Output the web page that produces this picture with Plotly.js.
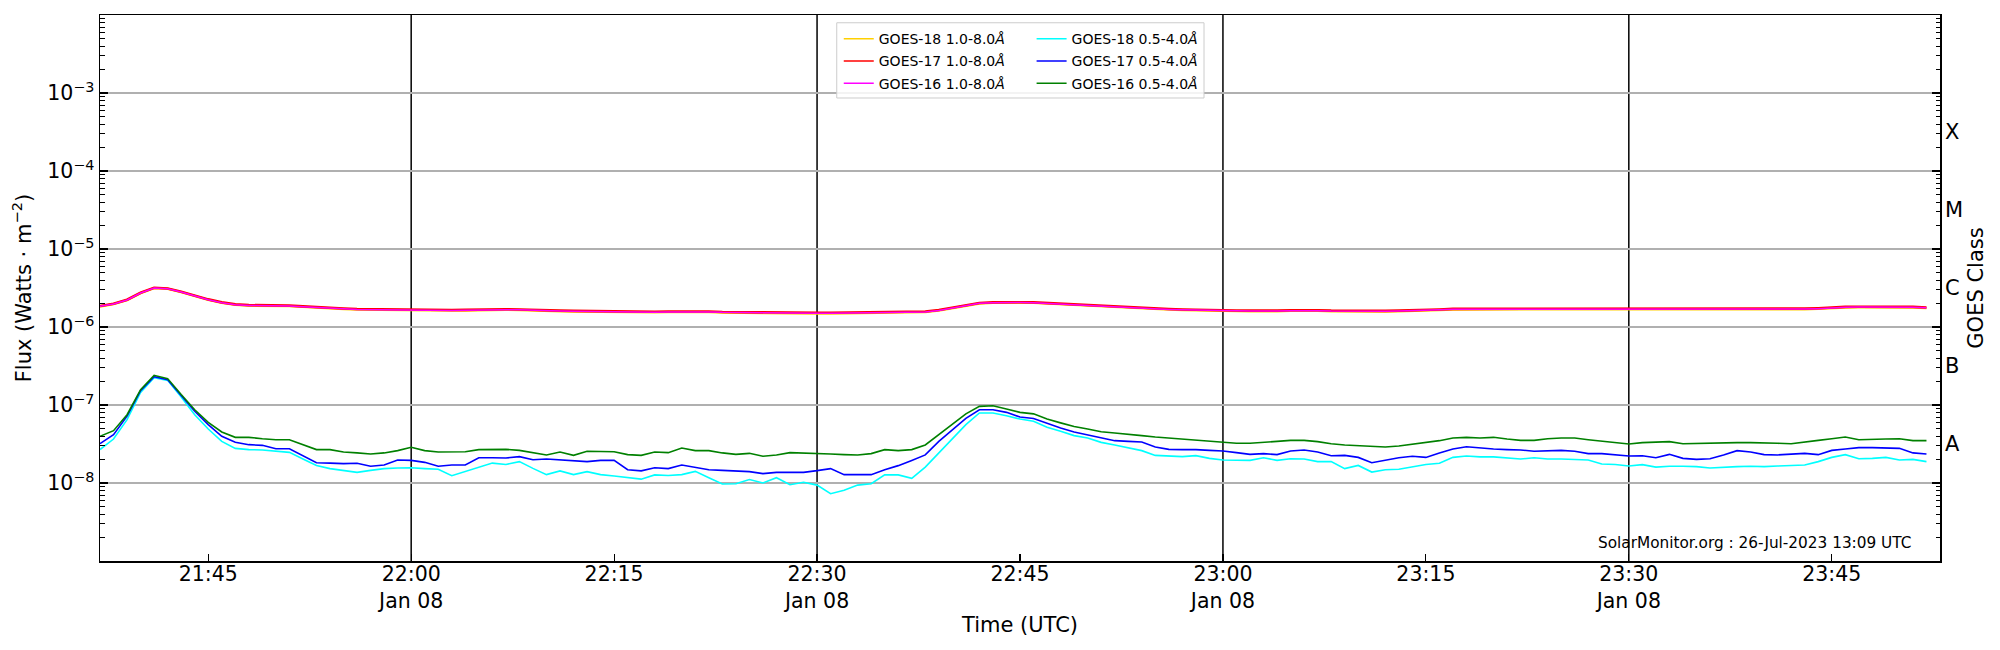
<!DOCTYPE html>
<html>
<head>
<meta charset="utf-8">
<script src="https://cdn.plot.ly/plotly-3.0.1.min.js"></script>
<style>
    html, body { margin: 0; padding: 0; background: #fff; }
    #chart { width: 2000px; height: 650px; }
</style>
</head>
<body>
<div id="chart"></div>
<script>
// GOES X-ray flux, 1-minute samples from 21:37 UTC, Jan 08
const START_TIME = "2023-01-08T21:37:00";

// 1.0-8.0 Å channels, in units of 1e-6 W m^-2
const goes18Long = [
    1.83,1.96,2.21,2.72,3.15,3.09,2.80,2.49,2.23,2.04,
    1.92,1.88,1.88,1.87,1.85,1.81,1.76,1.73,1.70,1.67,
    1.66,1.65,1.65,1.65,1.63,1.62,1.62,1.63,1.65,1.67,
    1.66,1.65,1.62,1.61,1.59,1.58,1.57,1.56,1.55,1.54,
    1.54,1.54,1.55,1.56,1.56,1.55,1.53,1.52,1.51,1.50,
    1.50,1.49,1.49,1.49,1.49,1.50,1.50,1.51,1.51,1.52,
    1.53,1.55,1.62,1.73,1.87,2.00,2.04,2.06,2.05,2.04,
    2.00,1.95,1.91,1.86,1.82,1.78,1.75,1.72,1.70,1.67,
    1.65,1.63,1.62,1.61,1.60,1.59,1.58,1.59,1.61,1.62,
    1.61,1.59,1.58,1.57,1.57,1.58,1.59,1.60,1.62,1.65,
    1.68,1.68,1.68,1.68,1.67,1.67,1.68,1.68,1.69,1.68,
    1.68,1.67,1.66,1.66,1.67,1.67,1.67,1.68,1.68,1.68,
    1.68,1.68,1.67,1.67,1.68,1.68,1.69,1.71,1.75,1.78,
    1.79,1.79,1.78,1.79,1.78,1.75,
];
const goes17Long = [
    1.86,1.99,2.24,2.75,3.18,3.12,2.83,2.52,2.26,2.07,
    1.95,1.91,1.91,1.90,1.88,1.84,1.79,1.76,1.73,1.70,
    1.69,1.68,1.68,1.68,1.66,1.65,1.65,1.66,1.68,1.70,
    1.69,1.68,1.65,1.64,1.62,1.61,1.60,1.59,1.58,1.57,
    1.57,1.57,1.58,1.59,1.59,1.58,1.56,1.55,1.54,1.53,
    1.53,1.52,1.52,1.52,1.52,1.53,1.53,1.54,1.54,1.55,
    1.56,1.58,1.65,1.76,1.90,2.03,2.07,2.09,2.08,2.07,
    2.03,1.98,1.94,1.89,1.85,1.81,1.78,1.75,1.73,1.70,
    1.68,1.66,1.65,1.64,1.63,1.62,1.61,1.62,1.64,1.65,
    1.64,1.62,1.61,1.60,1.60,1.61,1.62,1.63,1.65,1.68,
    1.71,1.71,1.71,1.71,1.70,1.70,1.71,1.71,1.72,1.71,
    1.71,1.70,1.69,1.69,1.70,1.70,1.70,1.71,1.71,1.71,
    1.71,1.71,1.70,1.70,1.71,1.71,1.72,1.74,1.78,1.81,
    1.82,1.82,1.81,1.82,1.81,1.78,
];
const goes16Long = [
    1.84,1.97,2.22,2.73,3.16,3.10,2.81,2.50,2.24,2.05,
    1.93,1.89,1.89,1.88,1.86,1.82,1.77,1.74,1.71,1.68,
    1.67,1.66,1.66,1.66,1.64,1.63,1.63,1.64,1.66,1.68,
    1.67,1.66,1.63,1.62,1.60,1.59,1.58,1.57,1.56,1.55,
    1.55,1.55,1.56,1.57,1.57,1.56,1.54,1.53,1.52,1.51,
    1.51,1.50,1.50,1.50,1.50,1.51,1.51,1.52,1.52,1.53,
    1.54,1.56,1.63,1.74,1.88,2.01,2.05,2.07,2.06,2.05,
    2.01,1.96,1.92,1.87,1.83,1.79,1.76,1.73,1.71,1.68,
    1.66,1.64,1.63,1.62,1.61,1.60,1.59,1.60,1.62,1.63,
    1.62,1.60,1.59,1.58,1.58,1.59,1.60,1.61,1.63,1.66,
    1.69,1.69,1.69,1.69,1.68,1.68,1.69,1.69,1.70,1.69,
    1.69,1.68,1.67,1.67,1.68,1.68,1.68,1.69,1.69,1.69,
    1.69,1.69,1.68,1.68,1.69,1.69,1.70,1.72,1.76,1.79,
    1.80,1.80,1.79,1.80,1.79,1.76,
];

// 0.5-4.0 Å channels, in units of 1e-8 W m^-2
const goes18Short = [
    2.68,3.66,6.5,14.5,22.4,20.7,12.7,7.5,4.92,3.42,
    2.78,2.68,2.65,2.57,2.47,2.03,1.68,1.53,1.44,1.37,
    1.45,1.53,1.56,1.57,1.53,1.50,1.24,1.41,1.59,1.80,
    1.73,1.88,1.54,1.28,1.43,1.28,1.40,1.28,1.23,1.18,
    1.12,1.27,1.25,1.28,1.41,1.17,0.97,0.98,1.11,1.00,
    1.17,0.95,1.02,0.94,0.73,0.805,0.94,0.98,1.27,1.27,
    1.15,1.60,2.43,3.78,5.6,7.9,7.9,7.3,6.6,6.2,
    5.2,4.6,4.05,3.78,3.32,3.07,2.81,2.60,2.26,2.24,
    2.18,2.24,2.07,1.97,1.95,1.95,2.11,1.95,2.05,2.03,
    1.88,1.88,1.53,1.68,1.38,1.48,1.50,1.60,1.73,1.79,
    2.13,2.22,2.16,2.16,2.11,2.03,2.11,2.03,2.03,1.99,
    1.97,1.75,1.73,1.65,1.72,1.60,1.64,1.64,1.62,1.56,
    1.60,1.62,1.64,1.62,1.65,1.67,1.70,1.88,2.13,2.31,
    2.05,2.07,2.13,1.97,2.01,1.88,
];
const goes17Short = [
    3.19,4.17,7.2,15.3,23.1,21.1,13.2,8.3,5.6,3.97,
    3.32,3.10,3.04,2.75,2.75,2.24,1.82,1.80,1.77,1.79,
    1.64,1.70,1.97,1.95,1.84,1.64,1.70,1.70,2.11,2.11,
    2.09,2.18,1.99,2.03,1.97,1.95,1.88,1.95,1.95,1.48,
    1.43,1.57,1.53,1.70,1.60,1.48,1.45,1.41,1.40,1.32,
    1.37,1.37,1.37,1.44,1.53,1.28,1.29,1.28,1.48,1.67,
    1.95,2.29,3.42,4.83,6.75,8.7,8.7,8.05,7.0,6.7,
    5.8,5.07,4.51,4.17,3.81,3.49,3.42,3.35,2.89,2.70,
    2.68,2.68,2.62,2.57,2.45,2.33,2.38,2.31,2.57,2.65,
    2.50,2.24,2.26,2.13,1.82,1.97,2.11,2.20,2.13,2.43,
    2.73,2.92,2.81,2.73,2.68,2.65,2.55,2.60,2.62,2.55,
    2.38,2.38,2.29,2.22,2.24,2.11,2.33,2.07,2.01,2.05,
    2.29,2.60,2.50,2.31,2.29,2.35,2.40,2.31,2.62,2.73,
    2.84,2.84,2.81,2.78,2.43,2.35,
];
const goes16Short = [
    3.97,4.69,7.5,15.7,24.0,21.8,13.6,8.7,6.0,4.51,
    3.85,3.85,3.70,3.59,3.59,3.10,2.68,2.68,2.50,2.43,
    2.35,2.43,2.60,2.87,2.60,2.50,2.50,2.52,2.68,2.70,
    2.70,2.62,2.47,2.29,2.50,2.26,2.55,2.52,2.52,2.31,
    2.26,2.50,2.45,2.81,2.60,2.60,2.43,2.33,2.40,2.20,
    2.29,2.45,2.40,2.40,2.35,2.31,2.29,2.38,2.68,2.60,
    2.68,3.07,4.17,5.6,7.7,9.6,9.8,8.9,8.05,7.7,
    6.6,5.9,5.3,4.92,4.55,4.38,4.25,4.05,3.89,3.78,
    3.70,3.59,3.45,3.35,3.23,3.23,3.35,3.42,3.52,3.52,
    3.39,3.19,3.07,3.01,2.95,2.89,2.98,3.13,3.26,3.49,
    3.78,3.85,3.78,3.85,3.66,3.52,3.52,3.70,3.78,3.78,
    3.59,3.42,3.26,3.16,3.29,3.32,3.39,3.19,3.23,3.23,
    3.26,3.29,3.29,3.29,3.23,3.19,3.32,3.52,3.70,3.89,
    3.59,3.59,3.66,3.70,3.49,3.49,
];

// axis ticks
const tickTimes = [
    "2023-01-08 21:45", "2023-01-08 22:00", "2023-01-08 22:15", "2023-01-08 22:30",
    "2023-01-08 22:45", "2023-01-08 23:00", "2023-01-08 23:15", "2023-01-08 23:30",
    "2023-01-08 23:45",
];
const tickLabels = [
    "21:45", "22:00<br>Jan 08", "22:15", "22:30<br>Jan 08",
    "22:45", "23:00<br>Jan 08", "23:15", "23:30<br>Jan 08", "23:45",
];
const dayLineTimes = ["2023-01-08 22:00", "2023-01-08 22:30", "2023-01-08 23:00", "2023-01-08 23:30"];
const decadeExps = [-8, -7, -6, -5, -4, -3];
const goesClasses = ["A", "B", "C", "M", "X"];

const FONT = "DejaVu Sans";

// ── build traces ────────────────────────────────────────────────────────────

const startMs = Date.parse(START_TIME + "Z");
const times = goes16Long.map((_, i) =>
    new Date(startMs + i * 60000).toISOString().slice(0, 19).replace("T", " ")
);

// plot width differs so the overlapping 1-8 Å curves blend like the original
const series = [
    { name: "GOES-18 1.0-8.0<i>Å</i>", vals: goes18Long, unit: 1e-6, color: "#ffd000", width: 2.4, legend: "legend" },
    { name: "GOES-18 0.5-4.0<i>Å</i>", vals: goes18Short, unit: 1e-8, color: "#00ffff", width: 1.6, legend: "legend2" },
    { name: "GOES-17 1.0-8.0<i>Å</i>", vals: goes17Long, unit: 1e-6, color: "#ff0000", width: 2.6, legend: "legend" },
    { name: "GOES-17 0.5-4.0<i>Å</i>", vals: goes17Short, unit: 1e-8, color: "#0000ff", width: 1.6, legend: "legend2" },
    { name: "GOES-16 1.0-8.0<i>Å</i>", vals: goes16Long, unit: 1e-6, color: "#ff00ff", width: 1.5, legend: "legend" },
    { name: "GOES-16 0.5-4.0<i>Å</i>", vals: goes16Short, unit: 1e-8, color: "#008000", width: 1.6, legend: "legend2" },
];

const traces = series.map((s) => ({
    type: "scatter",
    mode: "lines",
    name: s.name,
    x: times,
    y: s.vals.map((v) => v * s.unit),
    line: { color: s.color, width: s.width },
    showlegend: false,
    hoverinfo: "skip",
}));

// legend entries with a uniform line width
series.forEach((s, i) => {
    traces.push({
        type: "scatter", mode: "lines", name: s.name,
        x: [null], y: [null],
        line: { color: s.color, width: 1.5 },
        legend: s.legend, legendgroup: "g" + i,
        hoverinfo: "skip",
    });
});

// empty traces so the overlay axes get drawn
["y2", "y3", "y4"].forEach((ax) => {
    traces.push({ type: "scatter", x: [], y: [], yaxis: ax, showlegend: false, hoverinfo: "skip" });
});

// ── axes ────────────────────────────────────────────────────────────────────

const decadeVals = decadeExps.map((e) => Math.pow(10, e));
const decadeText = decadeExps.map((e) => "10<sup>−" + Math.abs(e) + "</sup>");
const minorVals = [];
for (let e = -9; e <= -3; e++) {
    for (let k = 2; k <= 9; k++) minorVals.push(k * Math.pow(10, e));
}
const classVals = goesClasses.map((_, i) => Math.pow(10, -7.5 + i));

const logRange = [-9, -2];
const tickFont = { family: FONT, size: 20.5, color: "#000" };
const titleFont = { family: FONT, size: 21, color: "#000" };

const layout = {
    width: 2000,
    height: 650,
    paper_bgcolor: "#fff",
    plot_bgcolor: "#fff",
    font: { family: FONT, color: "#000", size: 20 },
    margin: { l: 100, r: 60, t: 15, b: 89 },
    xaxis: {
        type: "date",
        range: ["2023-01-08 21:37", "2023-01-08 23:53"],
        tickvals: tickTimes,
        ticktext: tickLabels,
        ticks: "inside", ticklen: 7, tickwidth: 1.2, tickcolor: "#000",
        ticklabelstandoff: -6,
        showline: true, mirror: true, linecolor: "#000", linewidth: 1.5,
        showgrid: false, zeroline: false,
        tickfont: tickFont,
        title: { text: "Time (UTC)", font: titleFont, standoff: 5 },
    },
    yaxis: {
        type: "log",
        range: logRange,
        tickvals: decadeVals,
        ticktext: decadeText,
        ticks: "inside", ticklen: 8, tickwidth: 1.2, tickcolor: "#000",
        showline: true, mirror: "ticks", linecolor: "#000", linewidth: 1.5,
        showgrid: true, gridcolor: "#b0b0b0", gridwidth: 1.2,
        zeroline: false,
        tickfont: tickFont,
        title: { text: "Flux (Watts · m<sup>−2</sup>)", font: titleFont, standoff: 10 },
    },
    yaxis3: {
        type: "log", range: logRange, overlaying: "y", side: "left",
        tickvals: minorVals, ticks: "inside", ticklen: 4.5, tickwidth: 1, tickcolor: "#000",
        showticklabels: false, showgrid: false, showline: false, zeroline: false,
    },
    yaxis4: {
        type: "log", range: logRange, overlaying: "y", side: "right",
        tickvals: minorVals, ticks: "inside", ticklen: 4.5, tickwidth: 1, tickcolor: "#000",
        showticklabels: false, showgrid: false, showline: false, zeroline: false,
    },
    yaxis2: {
        type: "log", range: logRange, overlaying: "y", side: "right",
        tickvals: classVals, ticktext: goesClasses, ticks: "",
        ticklabelstandoff: 4,
        showgrid: false, showline: false, zeroline: false,
        tickfont: { family: FONT, size: 21, color: "#000" },
        title: { text: "GOES Class", font: titleFont, standoff: 6 },
    },
    legend: {
        x: 0.4015, y: 0.985, xanchor: "left", yanchor: "top",
        bgcolor: "rgba(0,0,0,0)", borderwidth: 0,
        font: { family: FONT, size: 14, color: "#000" },
        tracegroupgap: 1,
    },
    legend2: {
        x: 0.5063, y: 0.985, xanchor: "left", yanchor: "top",
        bgcolor: "rgba(0,0,0,0)", borderwidth: 0,
        font: { family: FONT, size: 14, color: "#000" },
        tracegroupgap: 1,
    },
    shapes: [
        {
            type: "rect", xref: "paper", yref: "paper",
            x0: 0.4004, x1: 0.6, y0: 0.848, y1: 0.9858,
            line: { color: "#cccccc", width: 1 },
            fillcolor: "rgba(255,255,255,0.85)",
            layer: "above",
        },
        ...dayLineTimes.map((t) => ({
            type: "line", xref: "x", yref: "paper",
            x0: t, x1: t, y0: 0, y1: 1,
            line: { color: "#000", width: 1.5 },
            layer: "between",
        })),
    ],
    annotations: [
        {
            xref: "paper", yref: "paper", x: 0.9855, y: 0.033,
            xanchor: "right", yanchor: "middle",
            text: "SolarMonitor.org : 26-Jul-2023 13:09 UTC",
            showarrow: false,
            font: { family: FONT, size: 15.3, color: "#000" },
        },
    ],
};

Plotly.newPlot("chart", traces, layout, { displayModeBar: false, staticPlot: true });
</script>
</body>
</html>
